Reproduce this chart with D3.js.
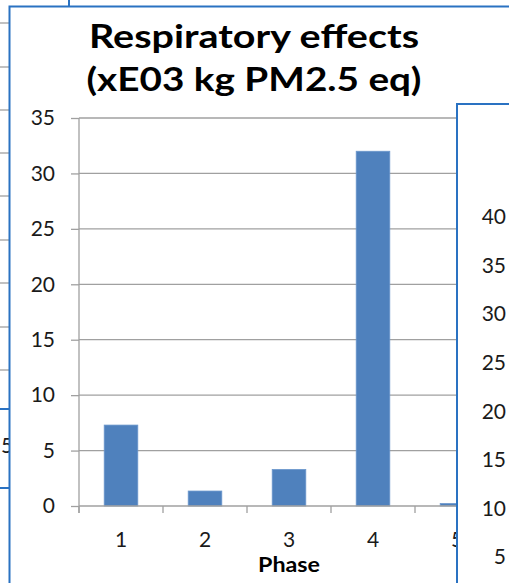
<!DOCTYPE html>
<html>
<head>
<meta charset="utf-8">
<script src="https://cdn.jsdelivr.net/npm/d3@7"></script>
<style>
  body { margin: 0; background: #fff; }
  text { font-family: Lato, "Open Sans", sans-serif; fill: #1a1a1a; }
</style>
</head>
<body>
<div id="viz"></div>
<script>
// data
var phases = ["1", "2", "3", "4", "5"];
var respiratory = [7.3, 1.35, 3.3, 32, 0.22];
var yTicks = [0, 5, 10, 15, 20, 25, 30, 35];
var titleLines = ["Respiratory effects", "(xE03 kg PM2.5 eq)"];
var xTitle = "Phase";

// neighbouring charts that peek in at the edges
var rightChartTicks = [40, 35, 30, 25, 20, 15, 10, 5];
var leftChartGrid = [23, 67, 110, 153, 196, 240, 283, 327, 370];

var W = 509, H = 583;
var blue = "#2a72c2", grid = "#a0a0a0", barColor = "#4f81bd";

var svg = d3.select("#viz").append("svg")
    .attr("width", W)
    .attr("height", H);

//***************** chart on the left, behind ***************************
var back = svg.append("g");
back.selectAll(".bgrid")
    .data(leftChartGrid)
    .enter().append("line")
    .attr("x1", 0).attr("x2", 10)
    .attr("y1", function(d){ return d; })
    .attr("y2", function(d){ return d; })
    .attr("stroke", grid)
    .attr("stroke-width", 1.3);
back.selectAll(".bblue")
    .data([409, 488])
    .enter().append("line")
    .attr("x1", 0).attr("x2", 10)
    .attr("y1", function(d){ return d; })
    .attr("y2", function(d){ return d; })
    .attr("stroke", blue)
    .attr("stroke-width", 2);
back.append("text")
    .attr("x", 1).attr("y", 453)
    .style("font-size", "21px")
    .text("5");
back.append("line")
    .attr("x1", 69).attr("x2", 69)
    .attr("y1", 0).attr("y2", 8)
    .attr("stroke", blue)
    .attr("stroke-width", 2);

//***************** main chart ***************************
var main = svg.append("g");
main.append("rect")
    .attr("x", 9.5).attr("y", 6.5)
    .attr("width", 560).attr("height", 640)
    .attr("fill", "#fff")
    .attr("stroke", blue)
    .attr("stroke-width", 2);

// title, stretched to the width Excel gave it
var titleWidths = [330, 335];
main.selectAll(".title")
    .data(titleLines)
    .enter().append("text")
    .attr("class", "title")
    .attr("x", 254)
    .attr("y", function(d, i){ return 48 + i * 43; })
    .attr("text-anchor", "middle")
    .attr("textLength", function(d, i){ return titleWidths[i]; })
    .attr("lengthAdjust", "spacingAndGlyphs")
    .style("font-size", "33px")
    .style("font-weight", "bold")
    .style("fill", "#000")
    .text(function(d){ return d; });

var plot = {left: 79, right: 499, top: 118, bottom: 506};

var yScale = d3.scaleLinear()
    .domain([0, 35])
    .range([plot.bottom, plot.top]);

var xScale = d3.scaleBand()
    .domain(phases)
    .range([plot.left, plot.right])
    .padding(0);
var bw = xScale.bandwidth();

// gridlines
main.selectAll(".grid")
    .data(yTicks.filter(function(d){ return d > 0; }))
    .enter().append("line")
    .attr("x1", plot.left).attr("x2", plot.right)
    .attr("y1", function(d){ return yScale(d); })
    .attr("y2", function(d){ return yScale(d); })
    .attr("stroke", grid)
    .attr("stroke-width", 1.3);

// bars
main.selectAll(".bar")
    .data(respiratory)
    .enter().append("rect")
    .attr("class", "bar")
    .attr("x", function(d, i){ return xScale(phases[i]) + bw * 0.3; })
    .attr("width", bw * 0.4)
    .attr("y", function(d){ return yScale(d); })
    .attr("height", function(d){ return plot.bottom - yScale(d); })
    .attr("fill", barColor)
    .attr("stroke", "#6b97cc")
    .attr("stroke-width", 0.8);

// y axis
var yAxis = d3.axisLeft(yScale)
    .tickValues(yTicks)
    .tickSize(8)
    .tickPadding(16);
var gy = main.append("g")
    .attr("transform", "translate(" + plot.left + ",0)")
    .call(yAxis);
gy.select(".domain").remove();
gy.selectAll(".tick line").attr("stroke", grid).attr("stroke-width", 1.3);
gy.selectAll(".tick text")
    .style("font-size", "21px")
    .style("font-family", "Lato, 'Open Sans', sans-serif")
    .attr("fill", "#1a1a1a");
gy.append("line")
    .attr("x1", 0).attr("x2", 0)
    .attr("y1", plot.top).attr("y2", plot.bottom + 7)
    .attr("stroke", grid)
    .attr("stroke-width", 1.3);

// x axis
var gx = main.append("g")
    .attr("transform", "translate(0," + plot.bottom + ")");
gx.append("line")
    .attr("x1", plot.left).attr("x2", plot.right)
    .attr("stroke", grid)
    .attr("stroke-width", 1.3);
gx.selectAll(".xtick")
    .data(phases.concat(["end"]))
    .enter().append("line")
    .attr("x1", function(d, i){ return plot.left + i * bw; })
    .attr("x2", function(d, i){ return plot.left + i * bw; })
    .attr("y1", 0).attr("y2", 7)
    .attr("stroke", grid)
    .attr("stroke-width", 1.3);
gx.selectAll(".xlabel")
    .data(phases)
    .enter().append("text")
    .attr("x", function(d){ return xScale(d) + bw / 2; })
    .attr("y", 41)
    .attr("text-anchor", "middle")
    .style("font-size", "21px")
    .text(function(d){ return d; });

main.append("text")
    .attr("x", (plot.left + plot.right) / 2)
    .attr("y", 572)
    .attr("text-anchor", "middle")
    .attr("textLength", 62)
    .attr("lengthAdjust", "spacingAndGlyphs")
    .style("font-size", "21px")
    .style("font-weight", "bold")
    .style("fill", "#000")
    .text(xTitle);

//***************** chart on the right, in front ***************************
var front = svg.append("g");
front.append("rect")
    .attr("x", 457).attr("y", 104)
    .attr("width", 120).attr("height", 560)
    .attr("fill", "#fff")
    .attr("stroke", blue)
    .attr("stroke-width", 2);

var yRight = d3.scaleLinear()
    .domain([5, 40])
    .range([557, 217]);
front.selectAll(".rlabel")
    .data(rightChartTicks)
    .enter().append("text")
    .attr("x", 506)
    .attr("y", function(d){ return yRight(d); })
    .attr("dy", "0.35em")
    .attr("text-anchor", "end")
    .style("font-size", "21px")
    .text(function(d){ return d; });
</script>
</body>
</html>
